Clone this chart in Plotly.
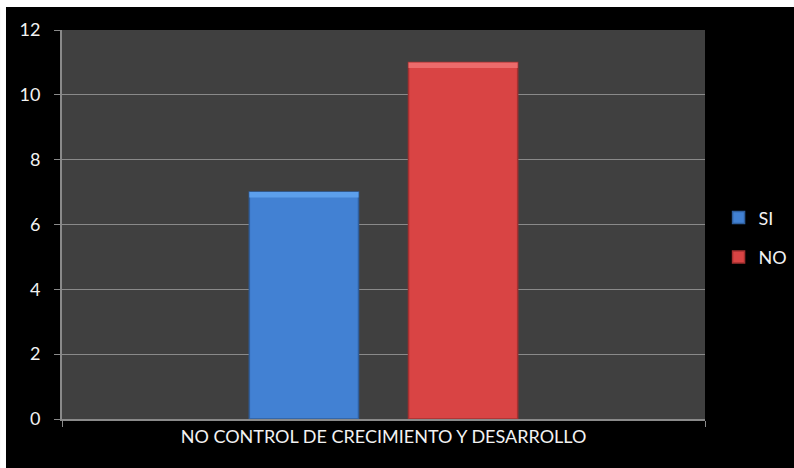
import plotly.graph_objects as go

# Data
category = ["NO CONTROL DE CRECIMIENTO Y DESARROLLO"]
series_names = ["SI", "NO"]
si_values = [7]
no_values = [11]
y_ticks = [0, 2, 4, 6, 8, 10, 12]

main_colors = {"SI": "#4281d3", "NO": "#d94444"}
edge_colors = {"SI": "#2f5f9e", "NO": "#a53030"}
top_colors = {"SI": "#5c9fec", "NO": "#ec6b6b"}
BEVEL = 0.17  # height (in data units) of the lighter top bevel strip

fig = go.Figure()
for name, vals in zip(series_names, [si_values, no_values]):
    fig.add_trace(go.Bar(
        name=name, x=category, y=vals, offsetgroup=name, legendgroup=name,
        marker=dict(color=main_colors[name],
                    line=dict(color=edge_colors[name], width=1.5)),
        hoverinfo="y+name",
    ))
    # lighter bevel strip along the top of each bar
    fig.add_trace(go.Bar(
        x=category, y=[BEVEL] * len(vals), base=[v - BEVEL for v in vals],
        offsetgroup=name, legendgroup=name, showlegend=False,
        marker=dict(color=top_colors[name], line=dict(width=0)),
        hoverinfo="skip",
    ))

axis_gray = "#8a8a8a"
fig.update_layout(
    width=794, height=468,
    margin=dict(l=62, r=89, t=30, b=49, autoexpand=False),
    paper_bgcolor="#000000",
    plot_bgcolor="#404040",
    barmode="group", bargap=0.505, bargroupgap=0.314,
    font=dict(family="Lato, 'Open Sans', sans-serif", size=18, color="#f2f2f2"),
    showlegend=True,
    legend=dict(xref="container", x=0.905, xanchor="left",
                yref="container", y=0.493, yanchor="middle",
                bgcolor="rgba(0,0,0,0)", tracegroupgap=13,
                traceorder="grouped", font=dict(size=18, color="#f2f2f2"),
                itemwidth=30),
    xaxis=dict(type="category", showgrid=False, ticks="outside",
               tickson="boundaries", ticklen=6, tickcolor=axis_gray,
               showline=True, linecolor=axis_gray, linewidth=2,
               tickfont=dict(size=18)),
    yaxis=dict(range=[0, 12], tickvals=y_ticks, showgrid=True,
               gridcolor=axis_gray, gridwidth=1, zeroline=False,
               ticks="outside", ticklen=6, tickcolor=axis_gray,
               showline=True, linecolor=axis_gray, linewidth=2,
               ticklabelstandoff=10, tickfont=dict(size=18)),
    shapes=[
        # thin white frame along the left and top page edges
        dict(type="rect", xref="paper", yref="paper", layer="above",
             x0=-0.0964, x1=-0.0871, y0=-0.126, y1=1.0772,
             fillcolor="white", line=dict(width=0)),
        dict(type="rect", xref="paper", yref="paper", layer="above",
             x0=-0.0964, x1=1.1384, y0=1.059, y1=1.0772,
             fillcolor="white", line=dict(width=0)),
    ],
)

fig.write_html("out.html")
